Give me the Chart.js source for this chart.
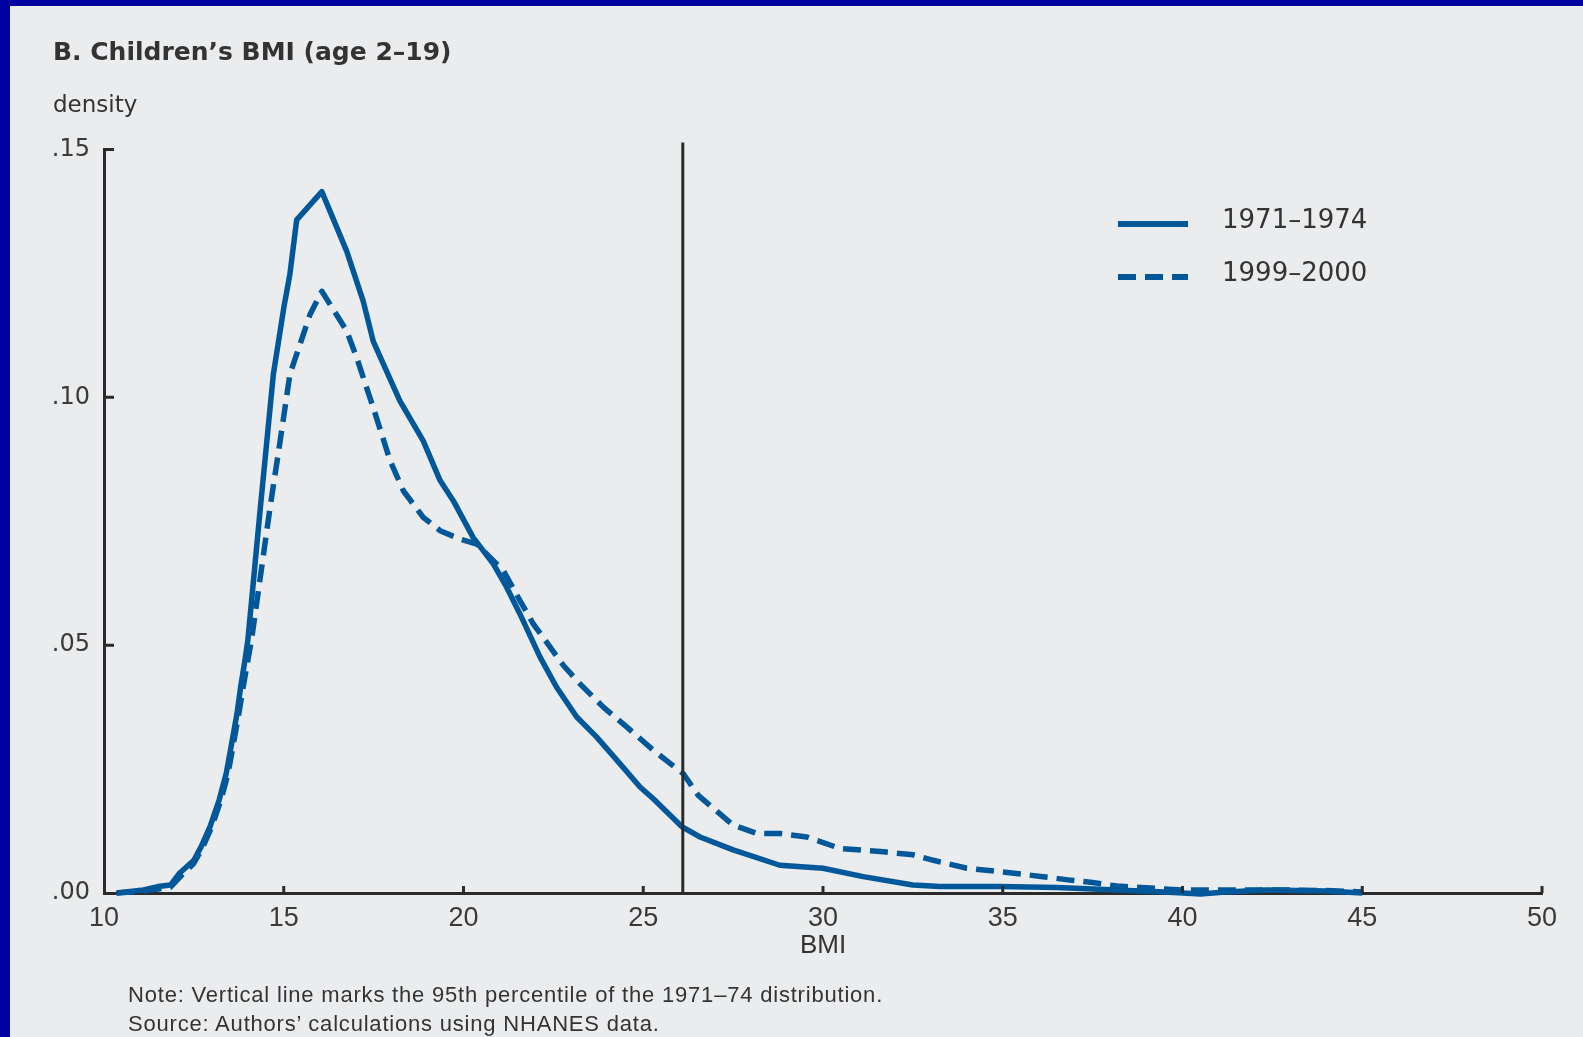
<!DOCTYPE html>
<html>
<head>
<meta charset="utf-8">
<script src="https://cdn.jsdelivr.net/npm/chart.js@4.4.1/dist/chart.umd.min.js"></script>
<style>
  html, body { margin: 0; padding: 0; }
  body { width: 1583px; height: 1037px; background: #0000a0; position: relative; overflow: hidden; }
  #panel { position: absolute; left: 10px; top: 6px; right: 0; bottom: 0; background: #ebecee; }
  #chart { position: absolute; left: 0; top: 0; }
  .txt { position: absolute; color: #333; white-space: nowrap; }
  #title { left: 53px; top: 39px; font: bold 25px/25px "DejaVu Sans", sans-serif; }
  #ylab { left: 53px; top: 93px; font: 23px/23px "DejaVu Sans", sans-serif; }
  .note { left: 128px; font: 22px/22px "Liberation Sans", sans-serif; letter-spacing: 0.8px; }
  #note1 { top: 984px; }
  #note2 { top: 1013px; }
</style>
</head>
<body>
<div id="panel"></div>
<canvas id="chart" width="1583" height="1037"></canvas>
<div class="txt" id="title">B. Children’s BMI (age 2–19)</div>
<div class="txt" id="ylab">density</div>
<div class="txt note" id="note1">Note: Vertical line marks the 95th percentile of the 1971–74 distribution.</div>
<div class="txt note" id="note2">Source: Authors’ calculations using NHANES data.</div>
<script>
// data
const seriesLabels = ['1971–1974', '1999–2000'];

const bmi7174 = [10.35, 11.1, 11.5, 11.85, 12.1, 12.5, 12.7, 12.95, 13.2, 13.4, 13.55, 13.7, 13.8, 13.92, 14.0,
  14.35, 14.53, 14.71, 15.0, 15.17, 15.36, 16.06, 16.75, 17.21, 17.49, 18.23, 18.88, 19.35, 19.72, 20.27,
  20.83, 21.2, 21.57, 22.13, 22.59, 23.15, 23.7, 24.35, 24.91, 25.28, 26.07, 26.58, 27.5, 28.8, 30.0,
  31.12, 32.5, 33.25, 34.92, 36.5, 37.5, 38.5, 39.5, 40.5, 41.2, 42.35, 44.0, 45.0];
const dens7174 = [0, 0.0006, 0.0013, 0.0016, 0.004, 0.0066, 0.0093, 0.0134, 0.0187, 0.0241, 0.0301, 0.0362, 0.0415, 0.0469, 0.0509,
  0.0778, 0.0912, 0.1046, 0.118, 0.1248, 0.1358, 0.1415, 0.1295, 0.1194, 0.1113, 0.0993, 0.0912, 0.0832, 0.0791, 0.0717,
  0.0664, 0.0617, 0.0563, 0.0476, 0.0415, 0.0355, 0.0315, 0.0261, 0.0214, 0.019, 0.0134, 0.0113, 0.0087, 0.0056, 0.005,
  0.0033, 0.0016, 0.0013, 0.0013, 0.0011, 0.0008, 0.0005, 0.0002, -0.0002, 0.0002, 0.0006, 0.0004, 0];

const bmi9900 = [10.35, 11.1, 11.5, 11.85, 12.15, 12.5, 12.75, 13.0, 13.25, 13.45, 13.6, 13.75, 13.87, 14.0, 14.1,
  14.62, 14.9, 15.17, 15.36, 15.73, 16.06, 16.75, 17.03, 17.49, 17.96, 18.33, 18.88, 19.35, 19.9, 20.37,
  20.74, 21.11, 21.57, 21.94, 22.41, 22.78, 23.24, 23.89, 24.54, 25.28, 26.11, 26.53, 27.5, 28.16, 28.8,
  29.55, 30.47, 31.68, 32.51, 33.07, 34.0, 34.92, 36.12, 36.87, 37.5, 38.17, 39.1, 40.0, 41.0, 42.0, 43.0, 44.0, 45.0];
const dens9900 = [0, 0.0004, 0.0008, 0.0012, 0.0035, 0.006, 0.0093, 0.0134, 0.0187, 0.0241, 0.0301, 0.0362, 0.0415, 0.0469, 0.0509,
  0.0778, 0.0912, 0.1046, 0.1087, 0.1167, 0.1214, 0.1134, 0.108, 0.0979, 0.0872, 0.0811, 0.0758, 0.0731, 0.0714, 0.0704,
  0.0677, 0.065, 0.059, 0.0543, 0.0496, 0.0459, 0.0422, 0.0375, 0.0335, 0.0288, 0.0241, 0.0197, 0.0137, 0.012, 0.012,
  0.0113, 0.009, 0.0083, 0.0077, 0.0066, 0.005, 0.0043, 0.0033, 0.0026, 0.0021, 0.0014, 0.001, 0.0006, 0.0006, 0.0006, 0.0006, 0.0005, 0.0002];

const xTicks = [10, 15, 20, 25, 30, 35, 40, 45, 50];
const yTicks = [0, 0.05, 0.10, 0.15];
const yTickLabels = ['.00', '.05', '.10', '.15'];
const p95Bmi = 26.1;   // 95th percentile of 1971-74

const BLUE = '#00589b';
const INK = '#2b2b2b';

const toPoints = (xs, ys) => xs.map((x, i) => ({ x: x, y: ys[i] }));

// inward ticks, the percentile line and the legend
const extras = {
  id: 'extras',
  afterDraw(chart) {
    const ctx = chart.ctx;
    const area = chart.chartArea;
    const xs = chart.scales.x, ys = chart.scales.y;
    ctx.save();
    ctx.strokeStyle = INK;
    ctx.lineWidth = 3;
    ctx.beginPath();
    ys.ticks.forEach(t => {
      if (t.value === 0) return;
      const py = ys.getPixelForValue(t.value);
      ctx.moveTo(area.left, py); ctx.lineTo(area.left + 10, py);
    });
    xs.ticks.forEach(t => {
      if (t.value === xs.min) return;
      const px = xs.getPixelForValue(t.value);
      ctx.moveTo(px, area.bottom); ctx.lineTo(px, area.bottom - 7);
    });
    ctx.stroke();

    const vx = xs.getPixelForValue(p95Bmi);
    ctx.beginPath();
    ctx.moveTo(vx, area.bottom);
    ctx.lineTo(vx, area.top - 7);
    ctx.stroke();

    // legend
    ctx.font = '26px "DejaVu Sans", sans-serif';
    ctx.textBaseline = 'middle';
    ctx.textAlign = 'left';
    chart.data.datasets.forEach((ds, i) => {
      const ly = 224 + i * 53;
      ctx.strokeStyle = ds.borderColor;
      ctx.lineWidth = 6;
      ctx.setLineDash(ds.borderDash || []);
      ctx.beginPath();
      ctx.moveTo(1118, ly); ctx.lineTo(1188, ly);
      ctx.stroke();
      ctx.setLineDash([]);
      ctx.fillStyle = '#333';
      ctx.fillText(ds.label, 1222, ly - 3);
    });
    ctx.restore();
  }
};

new Chart(document.getElementById('chart'), {
  type: 'line',
  data: {
    datasets: [
      { label: seriesLabels[0], data: toPoints(bmi7174, dens7174), borderColor: BLUE, borderWidth: 5.5,
        pointRadius: 0, tension: 0, fill: false, clip: 8, borderJoinStyle: 'round' },
      { label: seriesLabels[1], data: toPoints(bmi9900, dens9900), borderColor: BLUE, borderWidth: 5.5,
        borderDash: [18, 9], pointRadius: 0, tension: 0, fill: false, clip: 8, borderJoinStyle: 'round' }
    ]
  },
  options: {
    responsive: false,
    animation: false,
    events: [],
    layout: { padding: { left: 0, right: 41, top: 149.5, bottom: 0 } },
    plugins: { legend: { display: false }, tooltip: { enabled: false }, title: { display: false } },
    scales: {
      x: {
        type: 'linear', min: 10, max: 50,
        afterFit: s => { s.height = 144; },
        afterBuildTicks: s => { s.ticks = xTicks.map(v => ({ value: v })); },
        grid: { drawOnChartArea: false, drawTicks: false },
        border: { display: true, color: INK, width: 3 },
        ticks: { color: '#3a3a3a', padding: 9, maxRotation: 0, autoSkip: false,
          font: { family: '"Liberation Sans", sans-serif', size: 27 } },
        title: { display: true, text: 'BMI', color: '#333', padding: { top: 0, bottom: 76 },
          font: { family: '"Liberation Sans", sans-serif', size: 26 } }
      },
      y: {
        min: 0, max: 0.15,
        afterFit: s => { s.width = 104; },
        afterBuildTicks: s => { s.ticks = yTicks.map(v => ({ value: v })); },
        grid: { drawOnChartArea: false, drawTicks: false },
        border: { display: true, color: INK, width: 3 },
        ticks: { color: '#3a3a3a', padding: 14, autoSkip: false,
          callback: (v, i) => yTickLabels[i],
          font: { family: '"DejaVu Sans", sans-serif', size: 24 } }
      }
    }
  },
  plugins: [extras]
});
</script>
</body>
</html>
